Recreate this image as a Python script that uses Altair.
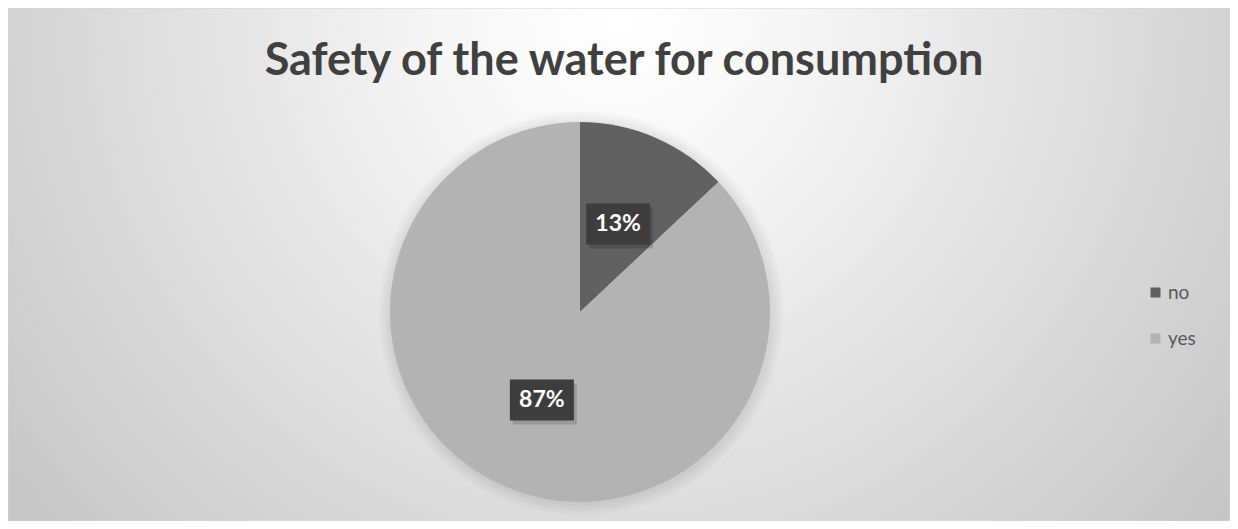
import altair as alt
import pandas as pd

# ---- data ----
CATEGORIES = ["no", "yes"]
VALUES = [13, 87]
COLORS = ["#616161", "#b3b3b3"]
TITLE = "Safety of the water for consumption"

# ---- layout constants ----
W, H = 1222, 513
CX, CY = 572, 304
R = 190
LR = 96  # label radius
BOX = "M-1,-0.64L1,-0.64L1,0.64L-1,0.64Z"

data = pd.DataFrame({"category": CATEGORIES, "value": VALUES})
one = pd.DataFrame({"a": [0]})

bg = alt.Chart(one).mark_rect(
    color=alt.RadialGradient(
        gradient="radial", x1=0.5, y1=0.3, x2=0.5, y2=0.3, r1=0, r2=0.72,
        stops=[alt.GradientStop(offset=0, color="#ffffff"),
               alt.GradientStop(offset=0.2, color="#f6f6f6"),
               alt.GradientStop(offset=1, color="#bebebe")]),
    stroke="#d4d4d4", strokeWidth=1,
).encode(x=alt.value(0), x2=alt.value(W), y=alt.value(0), y2=alt.value(H))

title = alt.Chart(one).mark_text(
    text=TITLE, font="Lato", fontWeight="bold", fontSize=45, color="#404040",
    align="center", baseline="alphabetic",
).encode(x=alt.value(616), y=alt.value(67))

shadows = [
    alt.Chart(one).mark_arc(radius=R + d, theta=0, theta2=6.2832, color="#000000", opacity=0.02)
    .encode(x=alt.value(CX + 1), y=alt.value(CY + 1))
    for d in (12, 9, 6, 3)
]

base = alt.Chart(data)

pie = base.mark_arc(radius=R).encode(
    theta=alt.Theta("value:Q", stack=True),
    order=alt.Order("category:N"),
    color=alt.Color("category:N",
                    scale=alt.Scale(domain=CATEGORIES, range=COLORS),
                    legend=alt.Legend(title=None, orient="none", legendX=1138, legendY=275,
                                      symbolType="square", symbolSize=100, symbolStrokeWidth=0,
                                      labelFontSize=19, labelFont="Lato", labelColor="#595959",
                                      rowPadding=26, padding=0, labelOffset=3)),
    x=alt.value(CX), y=alt.value(CY),
)

lab = base.transform_joinaggregate(total="sum(value)").transform_window(
    cum="sum(value)", sort=[alt.SortField("category")], frame=[None, 0]
).transform_calculate(
    mid="(datum.cum - datum.value/2)/datum.total*2*PI",
    lx=f"{CX}+{LR}*sin(datum.mid)",
    ly=f"{CY}-{LR}*cos(datum.mid)",
    pct="round(datum.value/datum.total*100)+'%'",
)

box_shadow = lab.mark_point(shape=BOX, size=64 * 64, filled=True, color="#000000", opacity=0.15).encode(
    x=alt.X("sx:Q", scale=None, axis=None), y=alt.Y("sy:Q", scale=None, axis=None)
).transform_calculate(sx="datum.lx+3", sy="datum.ly+4")

boxes = lab.mark_point(shape=BOX, size=64 * 64, filled=True, color="#3d3d3d", opacity=1).encode(
    x=alt.X("lx:Q", scale=None, axis=None), y=alt.Y("ly:Q", scale=None, axis=None)
)

texts = lab.mark_text(font="Lato", fontWeight="bold", fontSize=23, color="#ffffff",
                      align="center", baseline="middle").encode(
    x=alt.X("lx:Q", scale=None, axis=None), y=alt.Y("ly:Q", scale=None, axis=None),
    text="pct:N",
)

chart = alt.layer(bg, title, *shadows, pie, box_shadow, boxes, texts).properties(
    width=W, height=H, padding=0, autosize=alt.AutoSizeParams(type="none"),
).configure_view(stroke=None)

chart.save("out.html", embed_options={"renderer": "svg", "actions": False})
